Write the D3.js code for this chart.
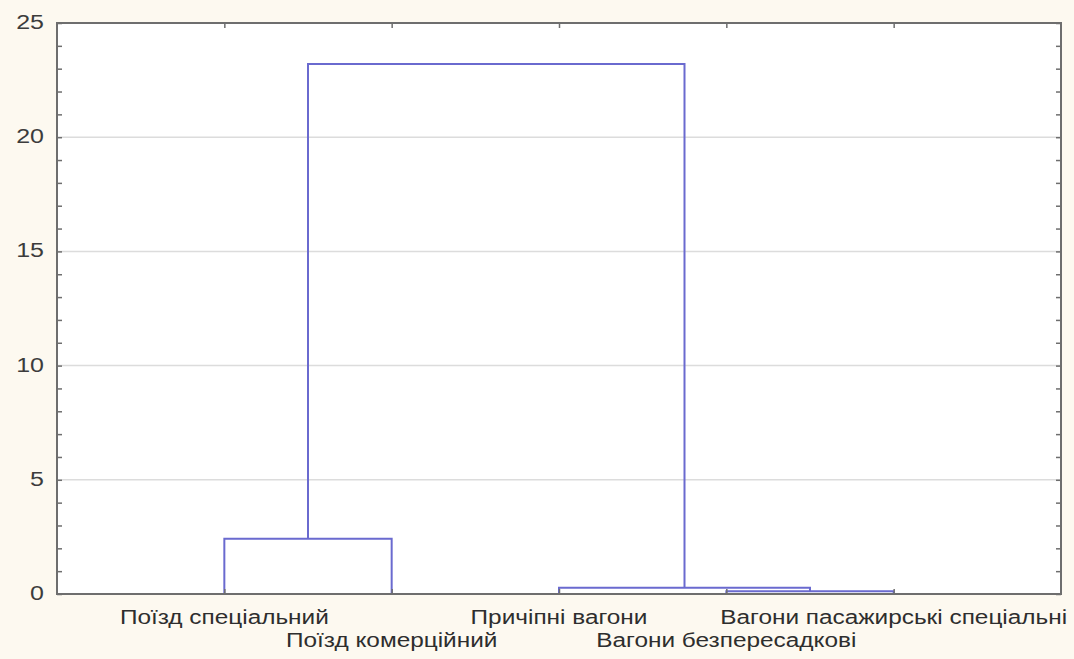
<!DOCTYPE html>
<html>
<head>
<meta charset="utf-8">
<script src="https://cdn.jsdelivr.net/npm/d3@7"></script>
<style>
  html, body { margin: 0; padding: 0; background: #fdf9f0; }
  svg { display: block; }
  text { font-family: "Liberation Sans", Arial, sans-serif; }
</style>
</head>
<body>
<svg id="chart" width="1074" height="659"></svg>
<script>
// Leaves of the tree, in display order
const leaves = [
  "Поїзд спеціальний",
  "Поїзд комерційний",
  "Причіпні вагони",
  "Вагони безпересадкові",
  "Вагони пасажирські спеціальні"
];

// Linkage: node ids 0..4 are leaves, each merge creates node 5, 6, ...
const mergeA = [0, 3, 2, 5];
const mergeB = [1, 4, 6, 7];
const mergeHeight = [2.42, 0.12, 0.27, 23.2];

const yTicks = [0, 5, 10, 15, 20, 25];

const m = { left: 57, right: 1061, top: 23, bottom: 594 };
const stretch = 1.25; // wide lettering

const svg = d3.select("#chart");

const x = d3.scaleLinear().domain([-1, leaves.length]).range([m.left, m.right]);
const y = d3.scaleLinear().domain([0, 25]).range([m.bottom, m.top]);

// plot area
svg.append("rect")
  .attr("x", m.left).attr("y", m.top)
  .attr("width", m.right - m.left).attr("height", m.bottom - m.top)
  .attr("fill", "#ffffff");

// horizontal grid lines
svg.append("g")
  .selectAll("line")
  .data(yTicks.filter(d => d > 0 && d < 25))
  .join("line")
  .attr("x1", m.left).attr("x2", m.right)
  .attr("y1", d => y(d)).attr("y2", d => y(d))
  .attr("stroke", "#dcdcdc").attr("stroke-width", 1.5);

// node positions and heights
const nodeX = leaves.map((_, i) => i);
const nodeH = leaves.map(() => 0);
mergeA.forEach((a, k) => {
  const b = mergeB[k];
  nodeX.push((nodeX[a] + nodeX[b]) / 2);
  nodeH.push(mergeHeight[k]);
});

// dendrogram links
const links = mergeA.map((a, k) => {
  const b = mergeB[k];
  const h = mergeHeight[k];
  const p = d3.path();
  p.moveTo(x(nodeX[a]), y(nodeH[a]));
  p.lineTo(x(nodeX[a]), y(h));
  p.lineTo(x(nodeX[b]), y(h));
  p.lineTo(x(nodeX[b]), y(nodeH[b]));
  return p.toString();
});

svg.append("g")
  .selectAll("path")
  .data(links)
  .join("path")
  .attr("d", d => d)
  .attr("fill", "none")
  .attr("stroke", "#6a6acf")
  .attr("stroke-width", 2);

// axes: minor ticks pointing inward
const minor = d3.range(0, 26, 1);
const axisColor = "#6e6e6e";

const leftAxis = d3.axisRight(y).tickValues(minor).tickSize(5).tickFormat("");
const rightAxis = d3.axisLeft(y).tickValues(minor).tickSize(5).tickFormat("");
const bottomAxis = d3.axisTop(x).tickValues(leaves.map((_, i) => i)).tickSize(5).tickFormat("");
const topAxis = d3.axisBottom(x).tickValues(leaves.map((_, i) => i)).tickSize(5).tickFormat("");

function styleAxis(g) {
  g.select(".domain").remove();
  g.selectAll(".tick line").attr("stroke", axisColor).attr("stroke-width", 1.5);
}

svg.append("g").attr("transform", `translate(${m.left},0)`).call(leftAxis).call(styleAxis);
svg.append("g").attr("transform", `translate(${m.right},0)`).call(rightAxis).call(styleAxis);
svg.append("g").attr("transform", `translate(0,${m.bottom})`).call(bottomAxis).call(styleAxis);
svg.append("g").attr("transform", `translate(0,${m.top})`).call(topAxis).call(styleAxis);

// frame
svg.append("rect")
  .attr("x", m.left).attr("y", m.top)
  .attr("width", m.right - m.left).attr("height", m.bottom - m.top)
  .attr("fill", "none").attr("stroke", axisColor).attr("stroke-width", 2);

// y tick labels
svg.append("g")
  .selectAll("text")
  .data(yTicks)
  .join("text")
  .attr("transform", d => `translate(${m.left - 13},${y(d)}) scale(${stretch},1)`)
  .attr("dy", "0.3em")
  .attr("text-anchor", "end")
  .attr("font-size", 20)
  .attr("fill", "#3c3c3c")
  .text(d => d);

// leaf labels, staggered in two rows
svg.append("g")
  .selectAll("text")
  .data(leaves)
  .join("text")
  .attr("transform", (d, i) => `translate(${x(i)},${i % 2 === 0 ? 624 : 647}) scale(${stretch},1)`)
  .attr("text-anchor", "middle")
  .attr("font-size", 19.5)
  .attr("fill", "#2e2e2e")
  .text(d => d);
</script>
</body>
</html>
